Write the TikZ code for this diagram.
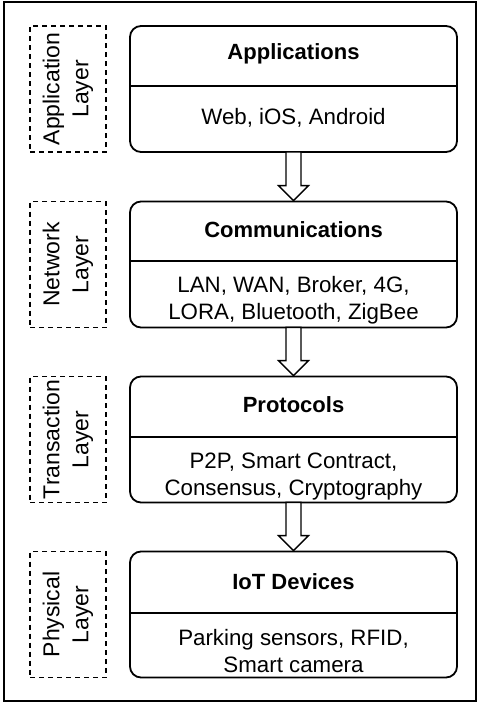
\documentclass[tikz,border=0pt]{standalone}
\usepackage{fontspec}
\setmainfont{Liberation Sans}
\begin{document}
\begin{tikzpicture}[x=1pt,y=-1pt,
  layerbox/.style={draw, line width=1.8pt, rounded corners=11pt, minimum width=327pt, minimum height=126pt, inner sep=0pt},
  lblbox/.style={draw, dashed, dash pattern=on 5pt off 4pt, line width=1.8pt, minimum width=76pt, minimum height=126pt, inner sep=0pt},
  lbl/.style={rotate=90, align=center, font=\fontsize{23}{29}\selectfont},
  ttl/.style={font=\fontsize{22}{27}\selectfont\bfseries},
  body/.style={align=center, font=\fontsize{22.3}{27}\selectfont},
  divider/.style={line width=1.4pt},
  blockarrow/.style={draw, line width=1.4pt, fill=white, line join=miter}
]
\useasboundingbox (0,0) rectangle (477,702);
\node[draw, line width=2pt, minimum width=472pt, minimum height=699pt, inner sep=0pt] (frame) at (240,351) {};

% main boxes
\node[layerbox] (b1) at (293.5,89) {};
\node[layerbox] (b2) at (293.5,264.5) {};
\node[layerbox] (b3) at (293.5,439.5) {};
\node[layerbox] (b4) at (293.5,614.5) {};

% dividers
\coordinate (d1) at (0,86);
\coordinate (d2) at (0,261);
\coordinate (d3) at (0,437);
\coordinate (d4) at (0,613);
\draw[divider] (b1.west |- d1) -- (b1.east |- d1);
\draw[divider] (b2.west |- d2) -- (b2.east |- d2);
\draw[divider] (b3.west |- d3) -- (b3.east |- d3);
\draw[divider] (b4.west |- d4) -- (b4.east |- d4);

% texts
\node[ttl] (t1) at (293.5,54) {Applications};
\node[body] (x1) at (293.5,118) {Web, iOS, Android};
\node[ttl] (t2) at (293.5,230) {Communications};
\node[body] (x2) at (293.5,300) {LAN, WAN, Broker, 4G,\\LORA, Bluetooth, ZigBee};
\node[ttl] (t3) at (293.5,405) {Protocols};
\node[body] (x3) at (293.5,477) {P2P, Smart Contract,\\Consensus, Cryptography};
\node[ttl] (t4) at (293.5,582) {IoT Devices};
\node[body] (x4) at (293.5,651) {Parking sensors, RFID,\\Smart camera};

% layer labels
\node[lblbox] (l1) at (68,89) {};
\node[lblbox] (l2) at (68,264.5) {};
\node[lblbox] (l3) at (68,439.5) {};
\node[lblbox] (l4) at (68,614.5) {};
\node[lbl] at (l1.center) {Application\\Layer};
\node[lbl] at (l2.center) {Network\\Layer};
\node[lbl] at (l3.center) {Transaction\\Layer};
\node[lbl] at (l4.center) {Physical\\Layer};

% block arrows
\foreach \a/\b in {b1/b2, b2/b3, b3/b4}{
  \path[blockarrow] ([xshift=-7.5pt,yshift=1pt]\a.south) -- ([xshift=-7.5pt,yshift=15pt]\b.north)
     -- ([xshift=-15pt,yshift=15pt]\b.north) -- (\b.north) -- ([xshift=15pt,yshift=15pt]\b.north)
     -- ([xshift=7.5pt,yshift=15pt]\b.north) -- ([xshift=7.5pt,yshift=1pt]\a.south) -- cycle;
}
\end{tikzpicture}
\end{document}
